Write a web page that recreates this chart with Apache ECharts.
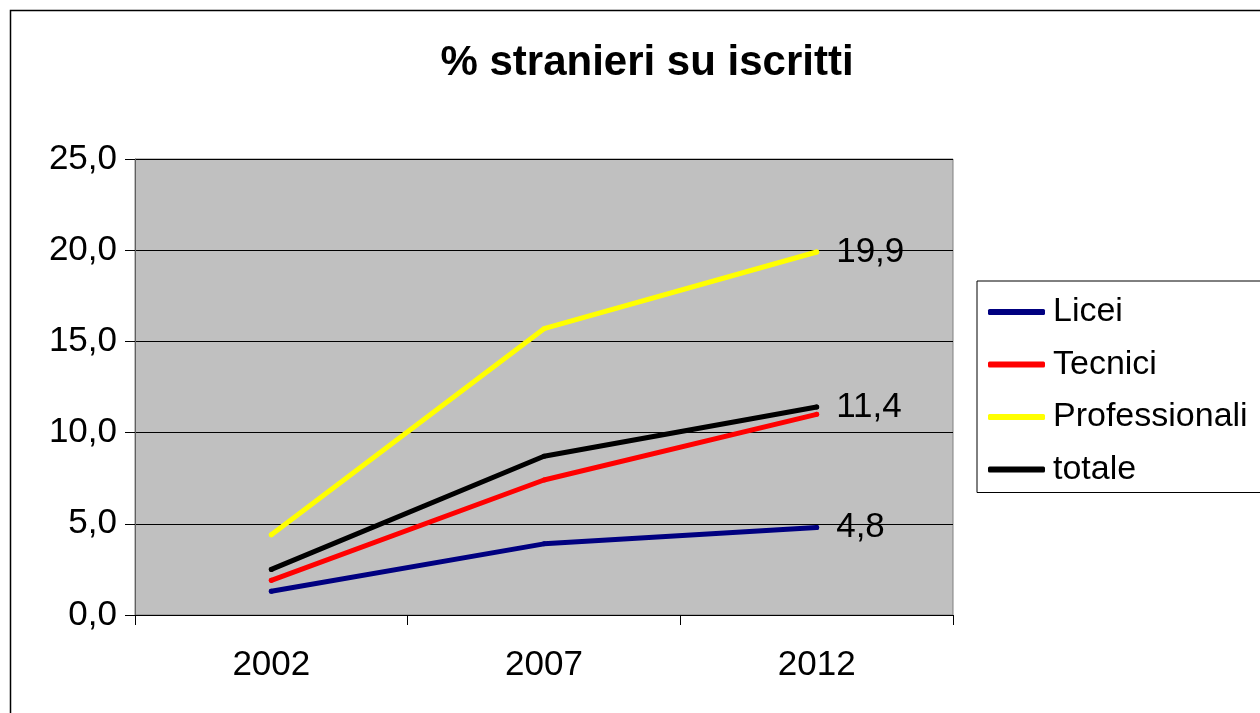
<!DOCTYPE html>
<html>
<head>
<meta charset="utf-8">
<script src="https://cdn.jsdelivr.net/npm/echarts@6/dist/echarts.min.js"></script>
<style>
  html, body { margin: 0; padding: 0; background: #fff; }
  #chart { width: 1260px; height: 713px; }
</style>
</head>
<body>
<div id="chart"></div>
<script>
// anni sull'asse x
const anni = ['2002', '2007', '2012'];
// percentuali di stranieri per tipo di scuola
const licei = [1.3, 3.9, 4.8];
const tecnici = [1.9, 7.4, 11.0];
const professionali = [4.4, 15.7, 19.9];
const totale = [2.5, 8.7, 11.4];
// etichette mostrate solo sull'ultimo punto
const conEtichetta = { Licei: true, Tecnici: false, Professionali: true, totale: true };

const fmt = v => v.toFixed(1).replace('.', ',');

function serie(nome, valori, colore) {
    return {
        name: nome,
        type: 'line',
        data: valori.map((v, i) => {
            if (i === valori.length - 1 && conEtichetta[nome]) {
                return { value: v, label: { show: true } };
            }
            return v;
        }),
        symbol: 'circle',
        symbolSize: 5,
        showSymbol: true,
        itemStyle: { color: colore },
        lineStyle: { width: 5, color: colore, cap: 'round', join: 'round' },
        label: {
            show: false,
            position: 'right',
            distance: 17,
            color: '#000',
            fontSize: 35,
            fontFamily: 'Liberation Sans, Arial, sans-serif',
            formatter: p => fmt(p.value)
        },
        emphasis: { disabled: true },
        animation: false
    };
}

const chart = echarts.init(document.getElementById('chart'));
chart.setOption({
    backgroundColor: '#fff',
    textStyle: { fontFamily: 'Liberation Sans, Arial, sans-serif' },
    title: {
        text: '% stranieri su iscritti',
        left: 642,
        textAlign: 'center',
        top: 37,
        textStyle: { fontSize: 42, fontWeight: 'bold', color: '#000' }
    },
    graphic: [{
        type: 'rect',
        shape: { x: 10.5, y: 10.5, width: 1260, height: 713 },
        style: { fill: 'none', stroke: '#000', lineWidth: 1.5 },
        z: 100
    }],
    legend: {
        orient: 'vertical',
        left: 977,
        top: 281,
        padding: [14, 20, 6, 11],
        backgroundColor: '#fff',
        borderColor: '#000',
        borderWidth: 1,
        icon: 'roundRect',
        itemWidth: 57,
        itemHeight: 6,
        itemGap: 18.5,
        textStyle: { fontSize: 34, color: '#000', padding: [0, 0, 0, 3], lineHeight: 33 },
        data: ['Licei', 'Tecnici', 'Professionali', 'totale']
    },
    grid: {
        left: 135,
        right: 307,
        top: 159,
        bottom: 98,
        show: true,
        backgroundColor: '#c0c0c0',
        borderColor: '#808080',
        borderWidth: 1
    },
    xAxis: {
        type: 'category',
        data: anni,
        boundaryGap: true,
        axisLine: { lineStyle: { color: '#000', width: 1 } },
        axisTick: { show: true, length: 10, lineStyle: { color: '#000' } },
        axisLabel: { fontSize: 35, color: '#000', margin: 33 },
        splitLine: { show: false }
    },
    yAxis: {
        type: 'value',
        min: 0,
        max: 25,
        interval: 5,
        axisLine: { show: true, lineStyle: { color: '#606060', width: 1 } },
        axisTick: { show: true, length: 10, lineStyle: { color: '#000' } },
        axisLabel: { fontSize: 35, color: '#000', margin: 18, formatter: v => fmt(v) },
        splitLine: { show: true, lineStyle: { color: '#000', width: 1 } }
    },
    series: [
        serie('Licei', licei, '#000080'),
        serie('Tecnici', tecnici, '#ff0000'),
        serie('Professionali', professionali, '#ffff00'),
        serie('totale', totale, '#000000')
    ]
});
</script>
</body>
</html>
